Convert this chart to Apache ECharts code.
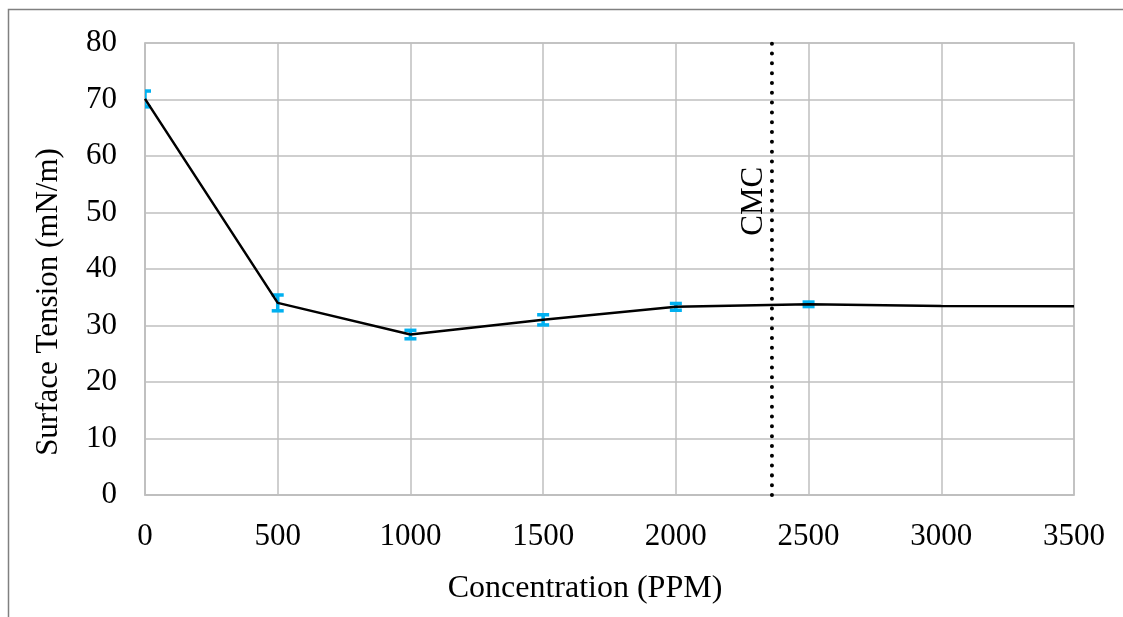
<!DOCTYPE html>
<html>
<head>
<meta charset="utf-8">
<script src="https://cdn.jsdelivr.net/npm/echarts@6/dist/echarts.min.js"></script>
<style>
  html, body { margin: 0; padding: 0; background: #fff; }
  #chart { width: 1123px; height: 617px; }
</style>
</head>
<body>
<div id="chart"></div>
<script>
// Surface tension measurements versus surfactant concentration
const concentrations = [0, 500, 1000, 1500, 2000, 2500, 3000, 3500];
const surfaceTension = [70.1, 34.0, 28.4, 31.0, 33.3, 33.75, 33.45, 33.4];
// Error bars (± value) for the measured points
const errConcentrations = [0, 500, 1000, 1500, 2000, 2500];
const errValues = [1.4, 1.4, 0.75, 0.9, 0.6, 0.4];
const errMeans = [70.1, 34.0, 28.4, 31.0, 33.3, 33.75];
// Critical micelle concentration marker
const cmcConcentration = 2362;
const cmcLabel = 'CMC';
const xTicks = [0, 500, 1000, 1500, 2000, 2500, 3000, 3500];
const yTicks = [0, 10, 20, 30, 40, 50, 60, 70, 80];

const FONT = '"Liberation Serif", "Times New Roman", serif';
const FONT_SIZE = 31;
const GRID_COLOR = '#bfbfbf';

const linePoints = concentrations.map((c, i) => [c, surfaceTension[i]]);
const errData = errConcentrations.map((c, i) => [c, errMeans[i] - errValues[i], errMeans[i] + errValues[i]]);

const chart = echarts.init(document.getElementById('chart'), null, { renderer: 'canvas' });

chart.setOption({
  animation: false,
  backgroundColor: '#ffffff',
  grid: { left: 145, right: 49, top: 43, bottom: 122, show: true, borderColor: GRID_COLOR, borderWidth: 1.5 },
  xAxis: {
    type: 'value',
    min: xTicks[0],
    max: xTicks[xTicks.length - 1],
    interval: xTicks[1] - xTicks[0],
    axisLine: { show: true, lineStyle: { color: GRID_COLOR, width: 1.5 } },
    axisTick: { show: false },
    splitLine: { show: true, lineStyle: { color: GRID_COLOR, width: 1.5 } },
    axisLabel: { color: '#000', fontFamily: FONT, fontSize: FONT_SIZE, margin: 26, formatter: v => String(v) }
  },
  yAxis: {
    type: 'value',
    min: yTicks[0],
    max: yTicks[yTicks.length - 1],
    interval: yTicks[1] - yTicks[0],
    axisLine: { show: true, lineStyle: { color: GRID_COLOR, width: 1.5 } },
    axisTick: { show: false },
    splitLine: { show: true, lineStyle: { color: GRID_COLOR, width: 1.5 } },
    axisLabel: { color: '#000', fontFamily: FONT, fontSize: FONT_SIZE, margin: 28, formatter: v => String(v) }
  },
  series: [
    {
      type: 'custom',
      name: 'error',
      data: errData,
      clip: true,
      z: 2,
      renderItem: function (params, api) {
        const x = api.value(0);
        const lo = api.coord([x, api.value(1)]);
        const hi = api.coord([x, api.value(2)]);
        const half = 6;
        const style = { stroke: '#00b0f0', lineWidth: 3.5, fill: null };
        return {
          type: 'group',
          children: [
            { type: 'line', shape: { x1: lo[0], y1: lo[1], x2: hi[0], y2: hi[1] }, style: style },
            { type: 'line', shape: { x1: lo[0] - half, y1: lo[1], x2: lo[0] + half, y2: lo[1] }, style: style },
            { type: 'line', shape: { x1: hi[0] - half, y1: hi[1], x2: hi[0] + half, y2: hi[1] }, style: style }
          ]
        };
      }
    },
    {
      type: 'line',
      name: 'Surface Tension',
      data: linePoints,
      showSymbol: false,
      symbol: 'none',
      z: 3,
      lineStyle: { color: '#000', width: 2.5 }
    },
    {
      type: 'line',
      name: 'CMC',
      data: [[cmcConcentration, yTicks[0]], [cmcConcentration, yTicks[yTicks.length - 1]]],
      showSymbol: false,
      symbol: 'none',
      z: 4,
      lineStyle: { color: '#000', width: 4, type: [0.01, 9.8], cap: 'round' }
    }
  ]
});

// Axis titles, the CMC label and the outer frame
const cmcPos = chart.convertToPixel({ gridIndex: 0 }, [cmcConcentration, 52]);
chart.setOption({
  graphic: [
    {
      type: 'polyline',
      shape: { points: [[8.5, 617], [8.5, 9.5], [1123, 9.5]] },
      style: { stroke: '#808080', lineWidth: 1.5, fill: null },
      silent: true
    },
    {
      type: 'text',
      x: 585, y: 589,
      style: { text: 'Concentration (PPM)', font: '32px ' + FONT, fill: '#000', align: 'center', verticalAlign: 'middle' }
    },
    {
      type: 'text',
      x: 49, y: 302,
      rotation: Math.PI / 2,
      style: { text: 'Surface Tension (mN/m)', font: FONT_SIZE + 'px ' + FONT, fill: '#000', align: 'center', verticalAlign: 'middle' }
    },
    {
      type: 'text',
      x: cmcPos[0] - 18, y: cmcPos[1],
      rotation: Math.PI / 2,
      z: 10,
      style: { text: cmcLabel, font: FONT_SIZE + 'px ' + FONT, fill: '#000', align: 'center', verticalAlign: 'middle' }
    }
  ]
});
</script>
</body>
</html>
